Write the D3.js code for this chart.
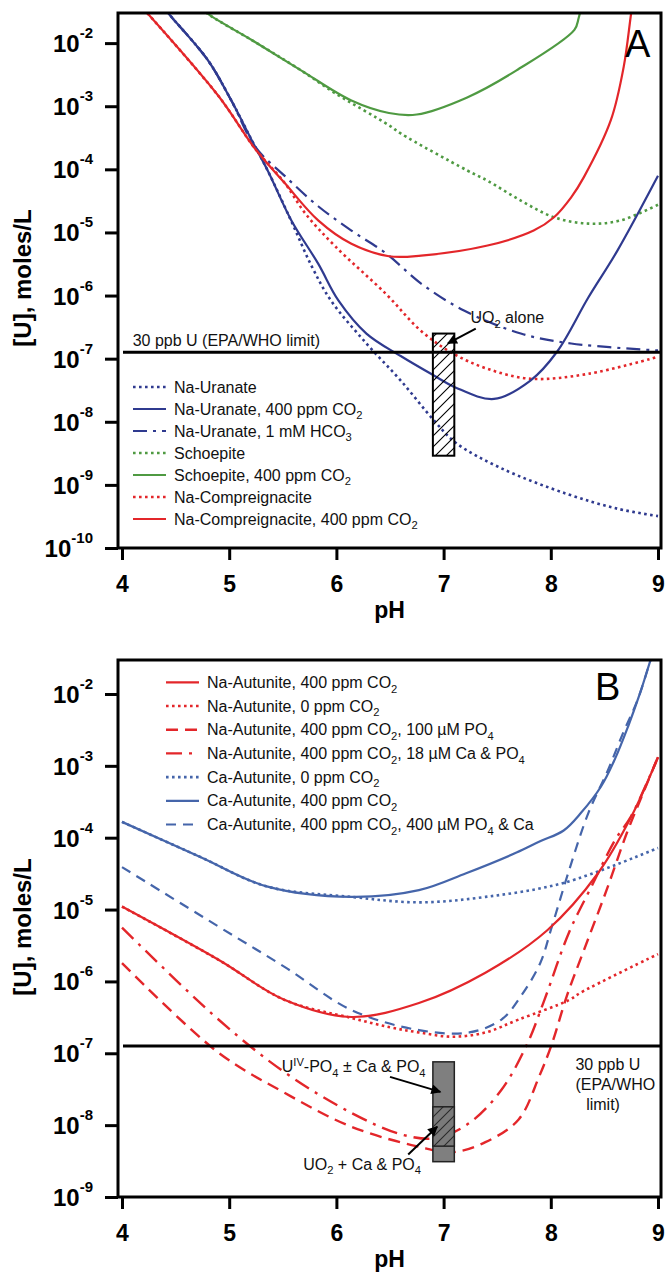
<!DOCTYPE html>
<html>
<head>
<meta charset="utf-8">
<script src="https://cdn.jsdelivr.net/npm/d3@7/dist/d3.min.js"></script>
<style>
  body { margin: 0; background: #fff; }
  svg { display: block; font-family: "Liberation Sans", Arial, sans-serif; }
</style>
</head>
<body>
<div id="chart"></div>
<script>
const width = 666;
const height = 1274;

// axis values
const pHTicks = [4, 5, 6, 7, 8, 9];
const decadesA = [-10, -9, -8, -7, -6, -5, -4, -3, -2];
const decadesB = [-9, -8, -7, -6, -5, -4, -3, -2];
const epaLimit = 1.26e-7; // 30 ppb U

// Panel A series, [pH, U mol/L]
const naUranate = [[4.35, 4.5e-2], [4.43, 3.0e-2], [4.80, 5.4e-3], [5.02, 1.23e-3], [5.21, 2.9e-4], [5.36, 9.5e-5],
  [5.58, 1.5e-5], [5.77, 2.9e-6], [5.95, 8.3e-7], [6.28, 1.74e-7], [6.60, 4.5e-8], [6.91, 1.05e-8],
  [7.11, 4.7e-9], [7.53, 1.86e-9], [8.15, 7.2e-10], [8.62, 4.2e-10], [9.0, 3.2e-10]];
const naUranateCO2 = [[4.35, 4.5e-2], [4.43, 3.0e-2], [4.80, 5.4e-3], [5.02, 1.23e-3], [5.21, 2.9e-4], [5.36, 9.5e-5],
  [5.58, 1.55e-5], [5.83, 3.2e-6], [6.02, 8.3e-7], [6.28, 2.5e-7], [6.60, 1.1e-7], [6.91, 5.4e-8],
  [7.11, 3.5e-8], [7.47, 2.3e-8], [7.81, 4.5e-8], [8.06, 1.3e-7], [8.35, 9.3e-7], [8.62, 5.1e-6], [9.0, 7.9e-5]];
const naUranateHCO3 = [[4.35, 4.5e-2], [4.43, 3.0e-2], [4.80, 5.4e-3], [5.02, 1.23e-3], [5.24, 2.3e-4], [5.52, 7.8e-5],
  [5.83, 2.6e-5], [6.14, 1.07e-5], [6.46, 4.7e-6], [6.79, 1.55e-6], [7.19, 5.8e-7], [7.72, 2.5e-7],
  [8.19, 1.74e-7], [9.0, 1.35e-7]];
const schoepite = [[4.70, 4.2e-2], [4.79, 3.0e-2], [5.21, 1.12e-2], [5.67, 3.7e-3], [5.99, 1.6e-3], [6.49, 5.0e-4],
  [6.60, 3.7e-4], [7.22, 9.6e-5], [7.41, 6.6e-5], [7.72, 3.2e-5], [8.03, 1.74e-5], [8.35, 1.38e-5],
  [8.65, 1.55e-5], [9.0, 2.75e-5]];
const schoepiteCO2 = [[4.70, 4.2e-2], [4.79, 3.0e-2], [5.21, 1.12e-2], [5.67, 3.7e-3], [6.14, 1.23e-3], [6.49, 7.8e-4],
  [6.75, 7.4e-4], [7.22, 1.38e-3], [7.68, 3.7e-3], [8.22, 1.62e-2], [8.26, 2.5e-2], [8.30, 5.0e-2]];
const naCompreig = [[4.20, 3.5e-2], [4.90, 1.45e-3], [5.24, 2.14e-4], [5.52, 6.0e-5], [5.71, 2.0e-5], [5.99, 6.0e-6],
  [6.46, 1.07e-6], [6.79, 2.75e-7], [7.09, 1.2e-7], [7.41, 6.9e-8], [7.81, 4.8e-8], [8.35, 5.75e-8], [9.0, 1.07e-7]];
const naCompreigCO2 = [[4.20, 3.5e-2], [4.90, 1.45e-3], [5.24, 2.14e-4], [5.52, 6.0e-5], [5.83, 1.55e-5], [6.14, 6.6e-6],
  [6.49, 4.2e-6], [6.79, 4.3e-6], [7.41, 6.2e-6], [7.84, 1.07e-5], [8.03, 1.74e-5], [8.19, 3.6e-5],
  [8.31, 7.6e-5], [8.56, 6.0e-4], [8.68, 4.2e-3], [8.75, 3.0e-2], [8.78, 6.3e-2]];

// Panel B series
const naAutCO2 = [[4.0, 1.1e-5], [4.9, 2.0e-6], [5.52, 5.5e-7], [6.14, 3.2e-7], [6.77, 5.0e-7], [7.39, 1.32e-6],
  [7.97, 5.2e-6], [8.44, 3.2e-5], [8.75, 1.95e-4], [9.0, 1.32e-3]];
const naAut0 = [[4.0, 1.1e-5], [4.9, 2.0e-6], [5.52, 5.5e-7], [6.14, 3.1e-7], [6.5, 2.3e-7], [6.77, 1.95e-7],
  [7.08, 1.7e-7], [7.39, 1.95e-7], [7.70, 2.95e-7], [8.17, 5.5e-7], [8.28, 7.0e-7], [9.0, 2.4e-6]];
const naAutPO4 = [[4.0, 1.8e-6], [4.9, 1.02e-7], [5.52, 2.8e-8], [6.14, 9.5e-9], [6.77, 5.0e-9], [7.08, 4.2e-9],
  [7.39, 5.8e-9], [7.70, 1.2e-8], [7.89, 4.7e-8], [8.01, 1.35e-7], [8.15, 6.3e-7], [8.31, 2.75e-6],
  [8.52, 1.86e-5], [8.71, 1.17e-4], [8.87, 4.5e-4], [9.0, 1.32e-3]];
const naAutCaPO4 = [[4.0, 5.6e-6], [4.9, 2.95e-7], [5.52, 5.4e-8], [6.14, 1.48e-8], [6.61, 7.4e-9], [6.93, 6.6e-9],
  [7.24, 1.07e-8], [7.54, 3.1e-8], [7.78, 1.35e-7], [7.94, 5.5e-7], [8.17, 4.8e-6], [8.38, 2.1e-5],
  [8.60, 9.3e-5], [8.75, 2.0e-4], [9.0, 1.32e-3]];
const caAut0 = [[4.0, 1.66e-4], [4.73, 5.4e-5], [5.35, 2.1e-5], [6.14, 1.5e-5], [6.77, 1.26e-5], [7.39, 1.5e-5],
  [8.12, 2.35e-5], [9.0, 7.2e-5]];
const caAutCO2 = [[4.0, 1.66e-4], [4.73, 5.4e-5], [5.35, 2.1e-5], [6.14, 1.5e-5], [6.77, 1.86e-5], [7.21, 3.2e-5],
  [7.68, 6.2e-5], [7.90, 8.9e-5], [8.12, 1.26e-4], [8.28, 2.2e-4], [8.47, 5.2e-4], [8.60, 1.26e-3],
  [8.72, 3.5e-3], [8.83, 1.0e-2], [8.93, 2.95e-2], [9.0, 6.3e-2]];
const caAutPO4 = [[4.0, 3.9e-5], [4.9, 5.8e-6], [5.52, 1.58e-6], [6.14, 4.0e-7], [6.77, 2.1e-7], [7.24, 1.95e-7],
  [7.54, 2.95e-7], [7.72, 6.2e-7], [7.90, 1.78e-6], [8.01, 5.8e-6], [8.17, 3.5e-5], [8.35, 2.2e-4],
  [8.53, 8.5e-4], [8.68, 3.0e-3], [8.81, 8.3e-3], [8.93, 2.95e-2], [9.0, 6.3e-2]];

// boxes (pH range, U range)
const uo2AlonePH = [6.9, 7.1];
const uo2AloneU = [2.9e-9, 2.5e-7];
const uivPH = [6.9, 7.1];
const uivU = [3.1e-9, 7.6e-8];
const uo2CaPO4U = [5.1e-9, 1.8e-8];

// legend labels, pieces with sub/superscripts
const labelsA = [
  ['Na-Uranate'],
  ['Na-Uranate, 400 ppm CO', ['2', 'sub']],
  ['Na-Uranate, 1 mM HCO', ['3', 'sub']],
  ['Schoepite'],
  ['Schoepite, 400 ppm CO', ['2', 'sub']],
  ['Na-Compreignacite'],
  ['Na-Compreignacite, 400 ppm CO', ['2', 'sub']]
];
const labelsB = [
  ['Na-Autunite, 400 ppm CO', ['2', 'sub']],
  ['Na-Autunite, 0 ppm CO', ['2', 'sub']],
  ['Na-Autunite, 400 ppm CO', ['2', 'sub'], ', 100 \u00b5M PO', ['4', 'sub']],
  ['Na-Autunite, 400 ppm CO', ['2', 'sub'], ', 18 \u00b5M Ca & PO', ['4', 'sub']],
  ['Ca-Autunite, 0 ppm CO', ['2', 'sub']],
  ['Ca-Autunite, 400 ppm CO', ['2', 'sub']],
  ['Ca-Autunite, 400 ppm CO', ['2', 'sub'], ', 400 \u00b5M PO', ['4', 'sub'], ' & Ca']
];

// styles
const red = '#e3262a';
const blueA = '#2f3a8f';
const green = '#4f9a42';
const blueB = '#4565aa';
const dotted = '2.6,3.4';

const stylesA = [
  { color: blueA, dash: dotted, w: 2.6 },
  { color: blueA, dash: null, w: 2.2 },
  { color: blueA, dash: '14,6,3,6', w: 2.2 },
  { color: green, dash: dotted, w: 2.6 },
  { color: green, dash: null, w: 2.2 },
  { color: red, dash: dotted, w: 2.6 },
  { color: red, dash: null, w: 2.2 }
];
const stylesB = [
  { color: red, dash: null, w: 2.2 },
  { color: red, dash: dotted, w: 2.6 },
  { color: red, dash: '12,7', w: 2.4 },
  { color: red, dash: '16,7,3,7', w: 2.4 },
  { color: blueB, dash: dotted, w: 2.6 },
  { color: blueB, dash: null, w: 2.2 },
  { color: blueB, dash: '10,7', w: 2.2 }
];

const frameL = 118, frameR = 661;
const x = d3.scaleLinear().domain([4, 9]).range([122, 658]);

const svg = d3.select('#chart')
  .append('svg')
    .attr('width', width)
    .attr('height', height);

const defs = svg.append('defs');

// hatching
defs.append('pattern')
    .attr('id', 'hatchA')
    .attr('patternUnits', 'userSpaceOnUse')
    .attr('width', 11).attr('height', 11)
  .append('path')
    .attr('d', 'M-2,2 L2,-2 M0,11 L11,0 M9,13 L13,9')
    .attr('stroke', '#000').attr('stroke-width', 1.1);

const hb = defs.append('pattern')
    .attr('id', 'hatchB')
    .attr('patternUnits', 'userSpaceOnUse')
    .attr('width', 10).attr('height', 10);
hb.append('rect').attr('width', 10).attr('height', 10).attr('fill', '#7a7a7a');
hb.append('path')
    .attr('d', 'M-2,2 L2,-2 M0,10 L10,0 M8,12 L12,8')
    .attr('stroke', '#2a2a2a').attr('stroke-width', 1.1);

defs.append('marker')
    .attr('id', 'arrow')
    .attr('viewBox', '0 0 10 10')
    .attr('refX', 9).attr('refY', 5)
    .attr('markerUnits', 'userSpaceOnUse')
    .attr('markerWidth', 13).attr('markerHeight', 10)
    .attr('orient', 'auto')
  .append('path')
    .attr('d', 'M0,0 L10,5 L0,10 Z')
    .attr('fill', '#000');

function rich(sel, parts, size) {
  let shift = 0;
  parts.forEach(p => {
    const [s, k] = typeof p === 'string' ? [p, null] : p;
    const target = k === 'sub' ? size * 0.3 : k === 'sup' ? -size * 0.4 : 0;
    const t = sel.append('tspan').attr('dy', target - shift).text(s);
    if (k) t.attr('font-size', size * 0.7);
    shift = target;
  });
}

function drawPanel(cfg) {
  const y = d3.scaleLog().domain([cfg.yMin, cfg.yMax]).range([cfg.bottom, cfg.top]);
  const g = svg.append('g');

  g.append('clipPath').attr('id', cfg.id + 'clip')
    .append('rect')
      .attr('x', frameL).attr('y', cfg.top)
      .attr('width', frameR - frameL).attr('height', cfg.bottom - cfg.top);

  // axes
  const yAxis = g.append('g')
    .attr('transform', `translate(${frameL},0)`)
    .call(d3.axisLeft(y).tickValues(cfg.decades.map(e => Math.pow(10, e))).tickSize(13).tickFormat(''));
  const xAxis = g.append('g')
    .attr('transform', `translate(0,${cfg.bottom})`)
    .call(d3.axisBottom(x).tickValues(pHTicks).tickSize(12).tickFormat(d3.format('d')));
  [yAxis, xAxis].forEach(a => {
    a.select('.domain').remove();
    a.selectAll('line').attr('stroke', '#000').attr('stroke-width', 3);
  });
  xAxis.selectAll('text')
    .attr('fill', '#000')
    .attr('font-size', 23)
    .attr('font-weight', 'bold')
    .attr('font-family', '"Liberation Sans", Arial, sans-serif')
    .attr('dy', null)
    .attr('y', 44);

  g.selectAll('.ylab')
    .data(cfg.decades)
    .join('text')
      .attr('class', 'ylab')
      .attr('x', 93)
      .attr('y', e => y(Math.pow(10, e)) + 9)
      .attr('text-anchor', 'end')
      .attr('font-weight', 'bold')
      .each(function(e) {
        const t = d3.select(this);
        t.append('tspan').attr('font-size', 24).text('10');
        t.append('tspan').attr('font-size', 15).attr('dy', -14).text(e);
      });

  g.append('text')
    .attr('transform', `translate(31,${cfg.titleY}) rotate(-90)`)
    .attr('text-anchor', 'middle')
    .attr('font-size', 24)
    .attr('font-weight', 'bold')
    .text('[U], moles/L');

  g.append('text')
    .attr('x', (frameL + frameR) / 2)
    .attr('y', cfg.bottom + 70)
    .attr('text-anchor', 'middle')
    .attr('font-size', 23)
    .attr('font-weight', 'bold')
    .text('pH');

  // curves, broken styles under solid ones
  const line = d3.line()
    .x(d => x(d[0]))
    .y(d => y(d[1]))
    .curve(d3.curveCatmullRom.alpha(0.5));
  const order = d3.range(cfg.series.length).sort((a, b) => (cfg.styles[a].dash ? 0 : 1) - (cfg.styles[b].dash ? 0 : 1));
  const curves = g.append('g').attr('clip-path', `url(#${cfg.id}clip)`);
  order.forEach(i => {
    const s = cfg.styles[i];
    curves.append('path')
      .datum(cfg.series[i])
      .attr('d', line)
      .attr('fill', 'none')
      .attr('stroke', s.color)
      .attr('stroke-width', s.w)
      .attr('stroke-dasharray', s.dash);
  });

  // 30 ppb limit
  g.append('line')
    .attr('x1', x(4) + 1).attr('x2', frameR)
    .attr('y1', y(epaLimit)).attr('y2', y(epaLimit))
    .attr('stroke', '#000').attr('stroke-width', 3);

  // legend
  const leg = g.append('g');
  cfg.labels.forEach((lab, i) => {
    const cy = cfg.legY + i * cfg.legStep;
    const s = cfg.styles[i];
    leg.append('line')
      .attr('x1', cfg.legX).attr('x2', cfg.legX + 33)
      .attr('y1', cy).attr('y2', cy)
      .attr('stroke', s.color)
      .attr('stroke-width', s.w)
      .attr('stroke-dasharray', s.dash);
    const t = leg.append('text')
      .attr('x', cfg.legX + 41)
      .attr('y', cy + 5.5)
      .attr('font-size', 16)
      .attr('fill', '#111');
    rich(t, lab, 16);
  });

  // frame
  g.append('rect')
    .attr('x', frameL).attr('y', cfg.top)
    .attr('width', frameR - frameL).attr('height', cfg.bottom - cfg.top)
    .attr('fill', 'none')
    .attr('stroke', '#000')
    .attr('stroke-width', 3);

  g.append('text')
    .attr('x', cfg.letterX)
    .attr('y', cfg.top + cfg.letterDy)
    .attr('font-size', 38)
    .text(cfg.letter);

  return { g, y };
}

// Panel A
const A = drawPanel({
  id: 'A', top: 13, bottom: 548, yMin: 1e-10, yMax: 3.0e-2,
  decades: decadesA, titleY: 278,
  series: [naUranate, naUranateCO2, naUranateHCO3, schoepite, schoepiteCO2, naCompreig, naCompreigCO2],
  styles: stylesA, labels: labelsA,
  legX: 133, legY: 387, legStep: 22,
  letter: 'A', letterX: 625, letterDy: 44
});

A.g.append('text')
  .attr('x', x(4.1))
  .attr('y', A.y(epaLimit) - 6)
  .attr('font-size', 16)
  .attr('fill', '#111')
  .text('30 ppb U (EPA/WHO limit)');

A.g.append('rect')
  .attr('x', x(uo2AlonePH[0])).attr('y', A.y(uo2AloneU[1]))
  .attr('width', x(uo2AlonePH[1]) - x(uo2AlonePH[0]))
  .attr('height', A.y(uo2AloneU[0]) - A.y(uo2AloneU[1]))
  .attr('fill', 'url(#hatchA)')
  .attr('stroke', '#000').attr('stroke-width', 2);

const uo2Text = A.g.append('text')
  .attr('x', x(7.25)).attr('y', A.y(3.7e-7))
  .attr('font-size', 16).attr('fill', '#111');
rich(uo2Text, ['UO', ['2', 'sub'], ' alone'], 16);

A.g.append('line')
  .attr('x1', x(7.3)).attr('y1', A.y(3.0e-7))
  .attr('x2', x(7.04)).attr('y2', A.y(1.75e-7))
  .attr('stroke', '#000').attr('stroke-width', 2)
  .attr('marker-end', 'url(#arrow)');

// Panel B
const B = drawPanel({
  id: 'B', top: 660, bottom: 1197, yMin: 1e-9, yMax: 2.97e-2,
  decades: decadesB, titleY: 927,
  series: [naAutCO2, naAut0, naAutPO4, naAutCaPO4, caAut0, caAutCO2, caAutPO4],
  styles: stylesB, labels: labelsB,
  legX: 166, legY: 682.3, legStep: 23.7,
  letter: 'B', letterX: 595, letterDy: 40
});

B.g.append('rect')
  .attr('x', x(uivPH[0])).attr('y', B.y(uivU[1]))
  .attr('width', x(uivPH[1]) - x(uivPH[0]))
  .attr('height', B.y(uivU[0]) - B.y(uivU[1]))
  .attr('fill', '#7f7f7f')
  .attr('stroke', '#222').attr('stroke-width', 1.5);

B.g.append('rect')
  .attr('x', x(uivPH[0])).attr('y', B.y(uo2CaPO4U[1]))
  .attr('width', x(uivPH[1]) - x(uivPH[0]))
  .attr('height', B.y(uo2CaPO4U[0]) - B.y(uo2CaPO4U[1]))
  .attr('fill', 'url(#hatchB)')
  .attr('stroke', '#222').attr('stroke-width', 1.5);

const uivText = B.g.append('text')
  .attr('x', x(5.49)).attr('y', B.y(5.5e-8))
  .attr('font-size', 16).attr('fill', '#111');
rich(uivText, ['U', ['IV', 'sup'], '-PO', ['4', 'sub'], ' \u00b1 Ca & PO', ['4', 'sub']], 16);

const uo2CaText = B.g.append('text')
  .attr('x', x(5.69)).attr('y', B.y(2.4e-9))
  .attr('font-size', 16).attr('fill', '#111');
rich(uo2CaText, ['UO', ['2', 'sub'], ' + Ca & PO', ['4', 'sub']], 16);

B.g.append('line')
  .attr('x1', x(6.5)).attr('y1', B.y(4.7e-8))
  .attr('x2', x(6.97)).attr('y2', B.y(2.9e-8))
  .attr('stroke', '#000').attr('stroke-width', 2)
  .attr('marker-end', 'url(#arrow)');
B.g.append('line')
  .attr('x1', x(6.67)).attr('y1', B.y(3.9e-9))
  .attr('x2', x(6.94)).attr('y2', B.y(9.5e-9))
  .attr('stroke', '#000').attr('stroke-width', 2)
  .attr('marker-end', 'url(#arrow)');

const limitText = B.g.append('text')
  .attr('font-size', 16).attr('fill', '#111');
[['30 ppb U', 8.23, 24], ['(EPA/WHO', 8.23, 44], ['limit)', 8.33, 64]].forEach(([s, p, dy]) => {
  limitText.append('tspan')
    .attr('x', x(p))
    .attr('y', B.y(epaLimit) + dy)
    .text(s);
});
</script>
</body>
</html>
